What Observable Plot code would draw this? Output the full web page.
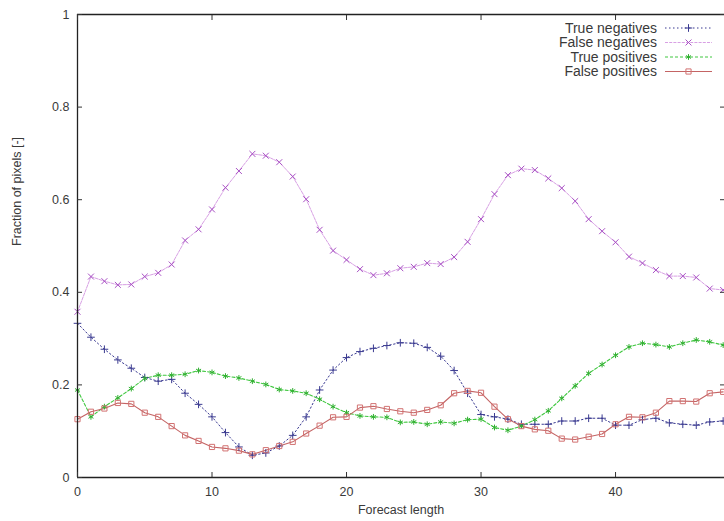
<!DOCTYPE html>
<html>
<head>
<meta charset="utf-8">
<script src="https://cdn.jsdelivr.net/npm/d3@7"></script>
<script src="https://cdn.jsdelivr.net/npm/@observablehq/plot@0.6"></script>
<style>
  html, body { margin: 0; padding: 0; background: #fff; }
  #wrap { position: relative; width: 724px; height: 521px; overflow: hidden; }
  #legend { position: absolute; left: 0; top: 0; pointer-events: none; }
</style>
</head>
<body>
<div id="wrap"></div>
<script>
// ---- data ----
const forecastLength = [0,1,2,3,4,5,6,7,8,9,10,11,12,13,14,15,16,17,18,19,20,21,22,23,24,25,26,27,28,29,30,31,32,33,34,35,36,37,38,39,40,41,42,43,44,45,46,47,48];

const trueNegatives = [0.333,0.303,0.277,0.254,0.236,0.216,0.208,0.212,0.182,0.158,0.131,0.097,0.066,0.048,0.053,0.068,0.091,0.131,0.189,0.232,0.259,0.272,0.279,0.285,0.291,0.290,0.281,0.262,0.231,0.182,0.136,0.131,0.126,0.115,0.115,0.115,0.122,0.122,0.128,0.128,0.113,0.113,0.125,0.128,0.118,0.115,0.113,0.120,0.122];

const falseNegatives = [0.358,0.434,0.424,0.416,0.417,0.434,0.442,0.460,0.512,0.536,0.579,0.626,0.662,0.699,0.695,0.681,0.650,0.601,0.535,0.490,0.470,0.450,0.437,0.441,0.452,0.455,0.463,0.461,0.476,0.509,0.558,0.612,0.653,0.667,0.664,0.646,0.625,0.597,0.558,0.532,0.508,0.477,0.463,0.448,0.435,0.435,0.432,0.408,0.405];

const truePositives = [0.189,0.131,0.153,0.172,0.192,0.214,0.221,0.221,0.223,0.231,0.227,0.219,0.215,0.208,0.201,0.190,0.187,0.182,0.169,0.153,0.140,0.133,0.131,0.130,0.119,0.120,0.115,0.120,0.117,0.125,0.126,0.108,0.102,0.111,0.125,0.144,0.171,0.198,0.225,0.244,0.264,0.282,0.290,0.287,0.282,0.290,0.297,0.293,0.286];

const falsePositives = [0.126,0.142,0.149,0.161,0.159,0.140,0.131,0.111,0.091,0.079,0.066,0.063,0.058,0.050,0.059,0.068,0.077,0.095,0.112,0.130,0.131,0.151,0.154,0.148,0.143,0.140,0.146,0.156,0.182,0.187,0.183,0.153,0.126,0.111,0.104,0.101,0.084,0.082,0.088,0.094,0.115,0.131,0.130,0.140,0.165,0.165,0.164,0.182,0.185];

const seriesNames = ["True negatives", "False negatives", "True positives", "False positives"];
const xTicks = [0, 10, 20, 30, 40];
const yTicks = [0, 0.2, 0.4, 0.6, 0.8, 1];
const yTickLabels = ["0", "0.2", "0.4", "0.6", "0.8", "1"];
const xLabel = "Forecast length";
const yLabel = "Fraction of pixels [-]";

// ---- styles ----
const styles = [
  {line: "#3a3a92", dash: "1.5,2.5", width: 1, symbol: "plus", mark: "#3a3a90", r: 2.6},
  {line: "#d8a0e4", dash: "3,1.2", width: 1, symbol: "times", mark: "#a850c4", r: 2.8},
  {line: "#40c840", dash: "3,2", width: 1.1, symbol: "asterisk", mark: "#30b030", r: 2.7},
  {line: "#c46464", dash: null, width: 1.1, symbol: "square2", mark: "#d27272", r: 3.3}
];
const seriesValues = [trueNegatives, falseNegatives, truePositives, falsePositives];

const rows = [];
seriesNames.forEach((name, s) => {
  forecastLength.forEach((x, i) => rows.push({series: name, s, x, y: seriesValues[s][i]}));
});

const font = "Liberation Sans, Arial, sans-serif";
const textColor = "#3a3a3a";

const marks = [];
seriesNames.forEach((name, s) => {
  const st = styles[s];
  const d = rows.filter(r => r.s === s);
  marks.push(Plot.line(d, {x: "x", y: "y", stroke: st.line, strokeWidth: st.width, strokeDasharray: st.dash}));
});
seriesNames.forEach((name, s) => {
  const st = styles[s];
  const d = rows.filter(r => r.s === s);
  marks.push(Plot.dot(d, {x: "x", y: "y", symbol: () => st.symbol, stroke: st.mark, fill: "none", r: st.r, strokeWidth: 1}));
});

const chart = Plot.plot({
  width: 724,
  height: 521,
  marginLeft: 77,
  marginTop: 14,
  marginBottom: 44,
  marginRight: 0,
  style: {fontFamily: font, fontSize: "12px", color: textColor, background: "#fff", overflow: "hidden"},
  x: {domain: [0, 48.1], label: null},
  y: {domain: [0, 1], label: null},
  symbol: {type: "identity"},
  marks: [
    ...marks,
    Plot.ruleY([0, 1], {stroke: "#222", strokeWidth: 1.3}),
    Plot.ruleX([0], {stroke: "#222", strokeWidth: 1.3}),
    Plot.axisX(xTicks, {anchor: "bottom", tickSize: -5, tickPadding: 15, stroke: "#333", fill: textColor, fontSize: 12.5}),
    Plot.axisX(xTicks, {anchor: "top", tickSize: -5, tickFormat: () => "", stroke: "#333"}),
    Plot.axisY(yTicks, {anchor: "left", tickSize: -5, tickPadding: 13, stroke: "#333", fill: textColor, fontSize: 12.5,
      tickFormat: (d, i) => yTickLabels[yTicks.indexOf(d)]}),
    Plot.axisY(yTicks, {anchor: "right", tickSize: -5, tickFormat: () => "", stroke: "#333"}),
    Plot.text([xLabel], {frameAnchor: "bottom", dy: 36, fill: textColor, fontSize: 12.5}),
    Plot.text([yLabel], {frameAnchor: "left", dx: -61, rotate: -90, fill: textColor, fontSize: 12.5})
  ]
});

const wrap = document.getElementById("wrap");
wrap.appendChild(chart);

// ---- legend (top-right, inside frame) ----
const legendRows = [28, 42.5, 57, 71.5];
const lg = d3.select(wrap).append("svg").attr("id", "legend")
  .attr("width", 724).attr("height", 90)
  .style("font-family", font).style("font-size", "14px");
const symbolGen = {plus: d3.symbolPlus, times: d3.symbolTimes, asterisk: d3.symbolAsterisk, square2: d3.symbolSquare2};
seriesNames.forEach((name, s) => {
  const st = styles[s];
  const y = legendRows[s];
  lg.append("text").attr("x", 657).attr("y", y).attr("dy", "0.35em")
    .attr("text-anchor", "end").attr("fill", textColor).text(name);
  lg.append("line").attr("x1", 665).attr("x2", 712).attr("y1", y).attr("y2", y)
    .attr("stroke", st.line).attr("stroke-width", st.width)
    .attr("stroke-dasharray", st.dash);
  lg.append("path").attr("transform", `translate(688.5,${y})`)
    .attr("d", d3.symbol(symbolGen[st.symbol], Math.PI * st.r * st.r)())
    .attr("fill", "none").attr("stroke", st.mark);
});
</script>
</body>
</html>
